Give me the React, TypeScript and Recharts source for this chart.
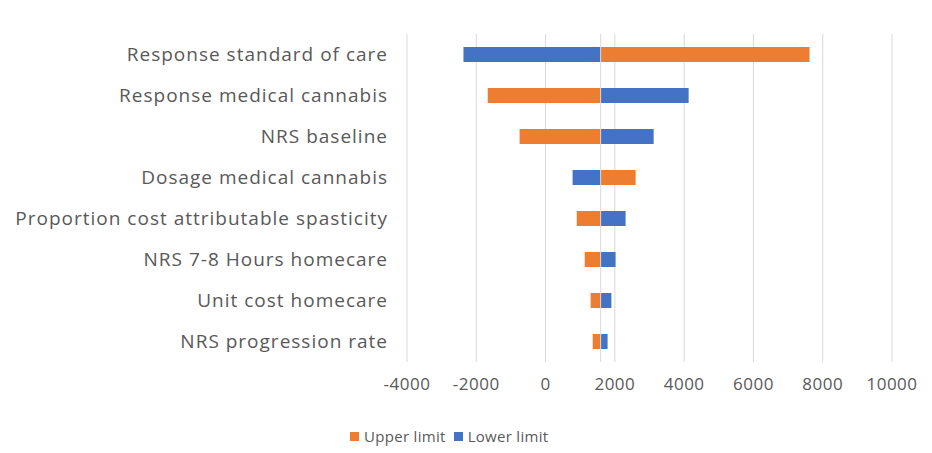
import React from 'react';
import { BarChart, Bar, XAxis, YAxis, CartesianGrid, Legend, ReferenceLine } from 'recharts';

const categories = [
  'Response standard of care',
  'Response medical cannabis',
  'NRS baseline',
  'Dosage medical cannabis',
  'Proportion cost attributable spasticity',
  'NRS 7-8 Hours homecare',
  'Unit cost homecare',
  'NRS progression rate',
];
const baseValue = 1590;
const upperLimit = [7620, -1670, -750, 2600, 900, 1130, 1300, 1360];
const lowerLimit = [-2370, 4130, 3120, 780, 2310, 2020, 1900, 1790];
const xTicks = [-4000, -2000, 0, 2000, 4000, 6000, 8000, 10000];
const seriesNames = ['Upper limit', 'Lower limit'];
const seriesColors = ['#ED7D31', '#4472C4'];

const data = categories.map((name, i) => ({
  name,
  upper: [Math.min(baseValue, upperLimit[i]), Math.max(baseValue, upperLimit[i])],
  lower: [Math.min(baseValue, lowerLimit[i]), Math.max(baseValue, lowerLimit[i])],
}));

const TEXT = '#595959';
const FONT = '"Open Sans", sans-serif';

const renderLegend = () => (
  <div style={{ display: 'flex', justifyContent: 'flex-start', alignItems: 'center', gap: 8, fontFamily: FONT, fontSize: 15, letterSpacing: 0.3, color: TEXT, paddingLeft: 350, paddingTop: 4 }}>
    {seriesNames.map((n, i) => (
      <div key={n} style={{ display: 'flex', alignItems: 'center' }}>
        <span style={{ display: 'inline-block', width: 9, height: 9, background: seriesColors[i], marginRight: 5 }} />
        <span>{n}</span>
      </div>
    ))}
  </div>
);

export default function App() {
  return (
    <div style={{ position: 'absolute', left: 0, top: 0, fontFamily: FONT }}>
      <BarChart
        width={932}
        height={453}
        data={data}
        layout="vertical"
        margin={{ top: 34, right: 40, bottom: 0, left: 0 }}
      >
        <CartesianGrid horizontal={false} vertical={true} stroke="#d9d9d9" />
        <XAxis
          type="number"
          domain={[-4000, 10000]}
          ticks={xTicks}
          axisLine={false}
          tickLine={false}
          tickSize={0}
          tickMargin={16}
          height={60}
          tick={{ fill: TEXT, fontSize: 17, fontFamily: FONT, letterSpacing: 0.5 }}
        />
        <YAxis
          yAxisId="a"
          type="category"
          dataKey="name"
          width={407}
          axisLine={false}
          tickLine={false}
          tickSize={0}
          tickMargin={19}
          interval={0}
          tick={{ fill: TEXT, fontSize: 19, fontFamily: FONT, letterSpacing: 1 }}
        />
        <YAxis yAxisId="b" type="category" dataKey="name" hide />
        <ReferenceLine yAxisId="a" x={baseValue} stroke="#d9d9d9" />
        <Bar
          yAxisId="a"
          dataKey="upper"
          name={seriesNames[0]}
          fill={seriesColors[0]}
          barSize={15}
          isAnimationActive={false}
        />
        <Bar
          yAxisId="b"
          dataKey="lower"
          name={seriesNames[1]}
          fill={seriesColors[1]}
          barSize={15}
          isAnimationActive={false}
        />
        <Legend
          verticalAlign="bottom"
          height={31}
          content={renderLegend}
          wrapperStyle={{ left: 0, width: 932 }}
        />
      </BarChart>
    </div>
  );
}
